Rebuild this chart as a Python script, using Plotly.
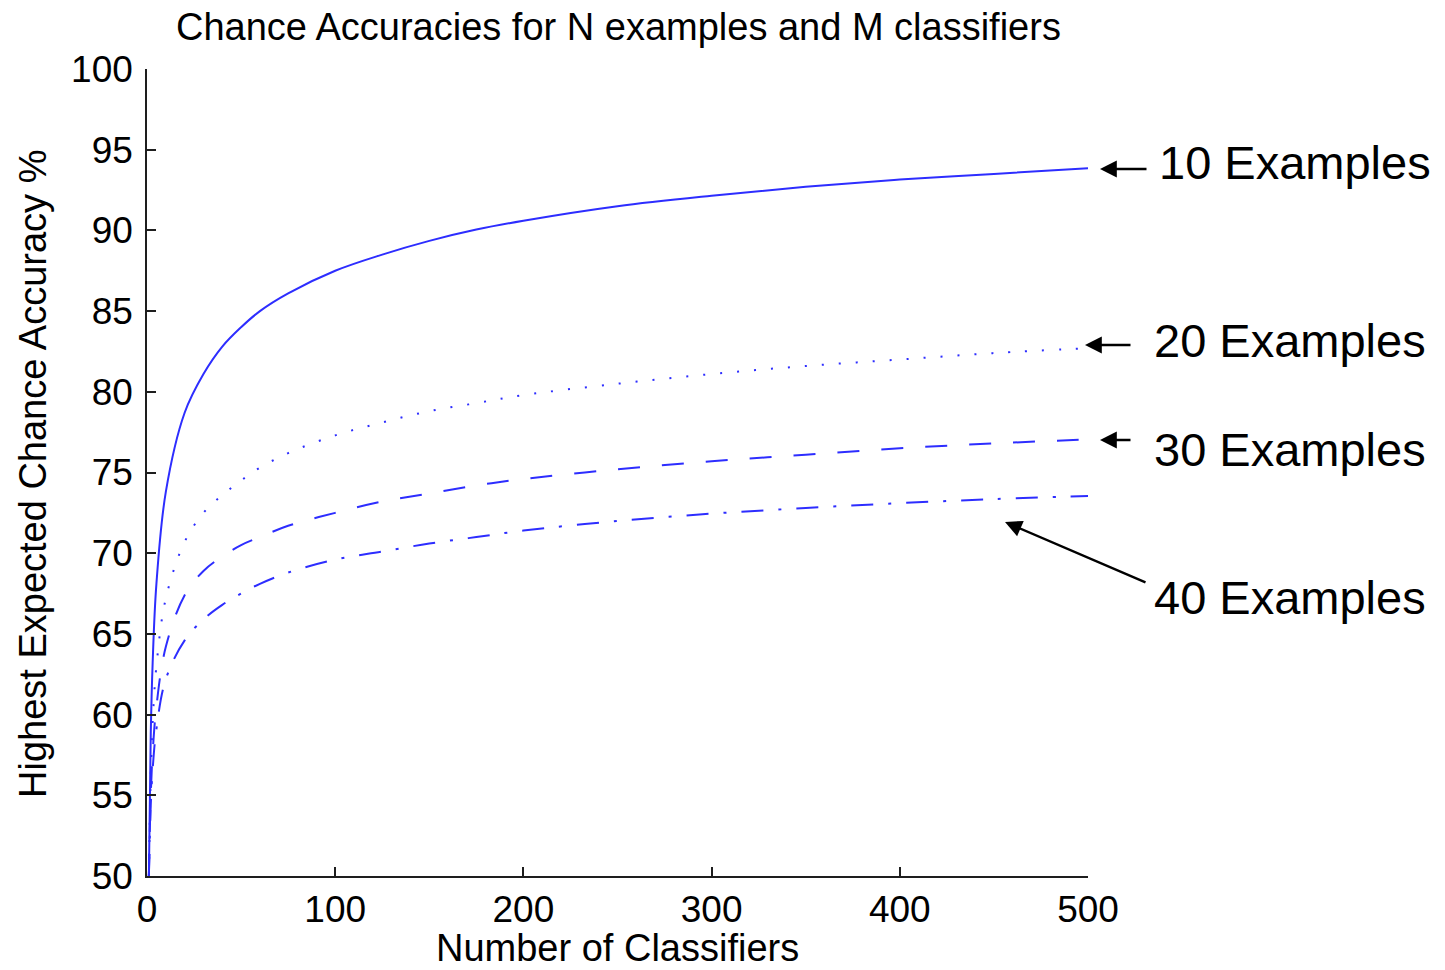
import plotly.graph_objects as go

# Number of classifiers (x) and highest expected chance accuracy %
classifiers = [1, 2, 3, 5, 10, 20, 30, 40, 50, 60, 75, 100, 125, 150, 175, 200, 250, 300, 350, 400, 450, 500]
acc_10 = [50, 58.8, 63.2, 68.1, 73.8, 78.7, 81.1, 82.8, 84.0, 85.0, 86.1, 87.5, 88.5, 89.35, 90.05, 90.6, 91.5, 92.15, 92.7, 93.15, 93.5, 93.85]
acc_20 = [50, 56.2, 59.5, 63.0, 67.2, 70.7, 72.5, 73.6, 74.5, 75.3, 76.2, 77.3, 78.1, 78.8, 79.3, 79.8, 80.5, 81.1, 81.6, 82.0, 82.4, 82.7]
acc_30 = [50, 55.0, 57.6, 60.5, 64.2, 67.4, 68.9, 69.8, 70.5, 71.0, 71.7, 72.5, 73.2, 73.7, 74.2, 74.6, 75.2, 75.7, 76.1, 76.5, 76.8, 77.05]
acc_40 = [50, 54.4, 56.6, 59.1, 62.2, 64.6, 65.9, 66.8, 67.5, 68.1, 68.8, 69.6, 70.1, 70.6, 71.0, 71.4, 72.0, 72.45, 72.8, 73.1, 73.35, 73.55]

series_names = ["10 Examples", "20 Examples", "30 Examples", "40 Examples"]
series_values = [acc_10, acc_20, acc_30, acc_40]
dash_styles = ["solid", "2px,15px", "22px,22px", "22px,15px,3px,15px"]

x_ticks = [0, 100, 200, 300, 400, 500]
y_ticks = [50, 55, 60, 65, 70, 75, 80, 85, 90, 95, 100]

FONT = "Liberation Sans, Arial, sans-serif"
BLUE = "rgb(45,45,255)"

W, H = 1445, 970
L, T, R, B = 147, 69, 357, 94
PW, PH = W - L - R, H - T - B


def px(xp):  # screen x -> paper x
    return (xp - L) / PW


def py(yp):  # screen y -> paper y
    return 1 - (yp - T) / PH


fig = go.Figure()
for name, vals, dash in zip(series_names, series_values, dash_styles):
    fig.add_trace(go.Scatter(
        x=classifiers, y=vals, mode="lines", name=name,
        line=dict(color=BLUE, width=2, dash=dash, shape="spline", smoothing=1.0),
        showlegend=False,
    ))

axis_common = dict(
    showgrid=False, zeroline=False, showline=True, linecolor="rgb(30,30,30)", linewidth=1.5,
    ticks="inside", ticklen=9, tickwidth=1.5, tickcolor="rgb(30,30,30)",
    tickfont=dict(family=FONT, size=37, color="black"), mirror=False,
)
fig.update_xaxes(range=[0, 500], tickvals=x_ticks, ticklabelstandoff=0, **axis_common)
fig.update_yaxes(range=[50, 100], tickvals=y_ticks, ticklabelstandoff=5, **axis_common)

annotations = [
    dict(text="Chance Accuracies for N examples and M classifiers", xref="paper", yref="paper",
         x=px(618), y=py(27), xanchor="center", yanchor="middle", showarrow=False,
         font=dict(family=FONT, size=38, color="black")),
    dict(text="Number of Classifiers", xref="paper", yref="paper",
         x=px(617), y=py(948), xanchor="center", yanchor="middle", showarrow=False,
         font=dict(family=FONT, size=38, color="black")),
    dict(text="Highest Expected Chance Accuracy %", xref="paper", yref="paper",
         x=px(33), y=py(474), xanchor="center", yanchor="middle", showarrow=False, textangle=-90,
         font=dict(family=FONT, size=38, color="black")),
]

# label text (screen left x, center y), arrow head (screen x, y), tail offsets
labels = [
    ("10 Examples", 1157, 163, 1100, 169, 48, 0),
    ("20 Examples", 1152, 340, 1085, 345, 47, 0),
    ("30 Examples", 1152, 449, 1100, 440, 32, 0),
    ("40 Examples", 1152, 597, 1005, 522, 142, 61),
]
for text, tx, ty, hx, hy, ax, ay in labels:
    annotations.append(dict(text=text, xref="paper", yref="paper", x=px(tx), y=py(ty),
                            xanchor="left", yanchor="middle", showarrow=False,
                            font=dict(family=FONT, size=47, color="black")))
    annotations.append(dict(text="", xref="paper", yref="paper", x=px(hx), y=py(hy), ax=ax, ay=ay,
                            showarrow=True, arrowhead=2, arrowsize=1.4, arrowwidth=2.4,
                            arrowcolor="black", standoff=0))

fig.update_layout(
    width=W, height=H,
    margin=dict(l=L, r=R, t=T, b=B),
    paper_bgcolor="white", plot_bgcolor="white",
    annotations=annotations,
    font=dict(family=FONT),
)

fig.write_html("out.html", config={"displayModeBar": False},
               post_script="document.body.style.margin='0';document.body.style.padding='0';")
